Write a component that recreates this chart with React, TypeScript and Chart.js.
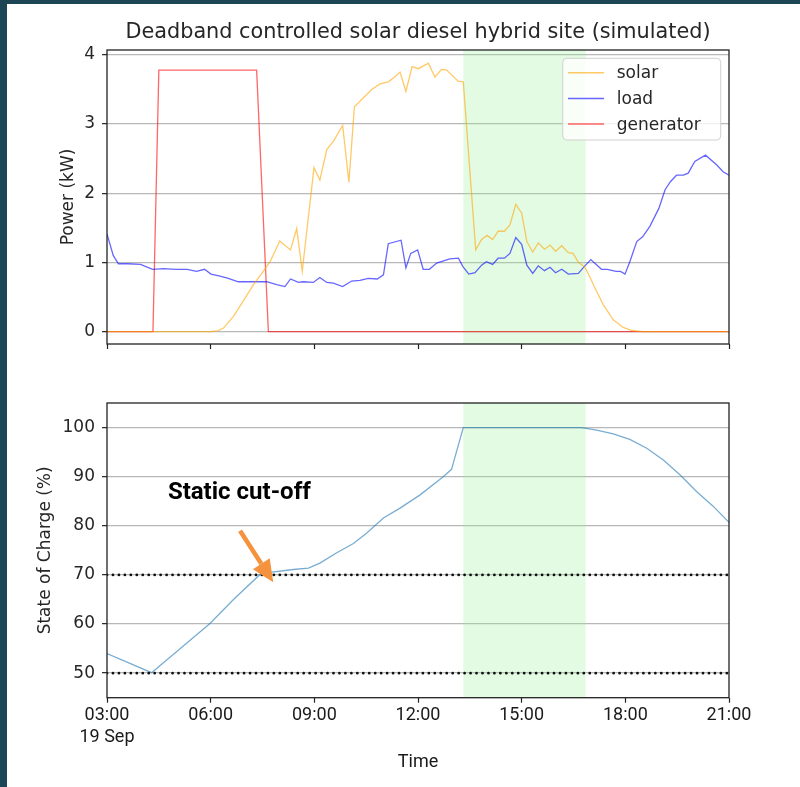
import React, { useEffect, useRef } from 'react';
import { Chart, registerables } from 'chart.js';

Chart.register(...registerables);

// ---------- data ----------
const chartTitle = 'Deadband controlled solar diesel hybrid site (simulated)';
const xTicks = [3, 6, 9, 12, 15, 18, 21];
const xTickLabels: (string | string[])[] = [['03:00', '19 Sep'], '06:00', '09:00', '12:00', '15:00', '18:00', '21:00'];
const powerTicks = [0, 1, 2, 3, 4];
const socTicks = [50, 60, 70, 80, 90, 100];
const seriesLabels = ['solar', 'load', 'generator'];

const solarTimes = [3, 6.0, 6.2, 6.37, 6.66, 6.94, 7.23, 7.52, 7.72, 8.0, 8.31, 8.49, 8.65, 8.99, 9.16, 9.36, 9.55, 9.82, 10.0, 10.16, 10.42, 10.66, 10.9, 11.14, 11.3, 11.48, 11.65, 11.83, 12.01, 12.3, 12.49, 12.68, 12.83, 13.16, 13.31, 13.67, 13.84, 14.0, 14.16, 14.32, 14.5, 14.66, 14.83, 15.0, 15.15, 15.32, 15.48, 15.66, 15.82, 15.98, 16.16, 16.35, 16.49, 16.64, 16.83, 17.0, 17.12, 17.36, 17.65, 17.94, 18.2, 18.5, 21];
const solarValues = [0, 0, 0.01, 0.05, 0.22, 0.44, 0.67, 0.87, 1.01, 1.31, 1.18, 1.49, 0.87, 2.37, 2.19, 2.63, 2.75, 2.98, 2.16, 3.25, 3.38, 3.5, 3.58, 3.61, 3.67, 3.75, 3.47, 3.83, 3.8, 3.88, 3.68, 3.79, 3.78, 3.62, 3.61, 1.18, 1.33, 1.39, 1.33, 1.45, 1.45, 1.54, 1.84, 1.71, 1.3, 1.15, 1.28, 1.19, 1.25, 1.16, 1.24, 1.14, 1.13, 1.0, 0.93, 0.76, 0.63, 0.39, 0.17, 0.06, 0.015, 0, 0];

const loadTimes = [3.0, 3.18, 3.33, 3.6, 3.97, 4.32, 4.63, 5.0, 5.32, 5.59, 5.82, 6.01, 6.27, 6.51, 6.8, 7.62, 7.91, 8.15, 8.31, 8.54, 8.68, 8.97, 9.16, 9.36, 9.55, 9.82, 10.08, 10.32, 10.56, 10.82, 11.0, 11.14, 11.51, 11.65, 11.79, 11.99, 12.15, 12.33, 12.54, 12.92, 13.17, 13.3, 13.47, 13.65, 13.84, 13.98, 14.16, 14.32, 14.5, 14.66, 14.83, 15.0, 15.15, 15.32, 15.48, 15.66, 15.82, 15.98, 16.16, 16.35, 16.64, 16.83, 17.0, 17.31, 17.48, 17.73, 17.86, 17.99, 18.13, 18.33, 18.5, 18.71, 18.97, 19.15, 19.31, 19.48, 19.68, 19.82, 20.01, 20.32, 20.64, 20.83, 21.0];
const loadValues = [1.41, 1.1, 0.98, 0.98, 0.97, 0.9, 0.91, 0.9, 0.9, 0.87, 0.9, 0.83, 0.8, 0.77, 0.72, 0.72, 0.68, 0.65, 0.76, 0.71, 0.72, 0.71, 0.78, 0.71, 0.7, 0.65, 0.73, 0.74, 0.77, 0.76, 0.82, 1.27, 1.32, 0.92, 1.13, 1.18, 0.9, 0.9, 0.99, 1.05, 1.06, 0.94, 0.83, 0.85, 0.96, 1.01, 0.97, 1.06, 1.06, 1.13, 1.36, 1.26, 0.96, 0.84, 0.95, 0.88, 0.93, 0.85, 0.9, 0.83, 0.84, 0.95, 1.04, 0.9, 0.9, 0.87, 0.87, 0.83, 1.01, 1.3, 1.37, 1.52, 1.78, 2.05, 2.17, 2.26, 2.26, 2.29, 2.46, 2.55, 2.41, 2.31, 2.26];

const generatorTimes = [3, 4.33, 4.5, 7.33, 7.67, 21];
const generatorValues = [0, 0, 3.78, 3.78, 0, 0];

const socTimes = [3.0, 4.29, 5.98, 6.66, 7.43, 7.6, 8.39, 8.83, 9.16, 9.65, 10.13, 10.51, 11.0, 11.48, 12.06, 12.73, 12.97, 13.31, 16.73, 17.17, 17.65, 18.13, 18.62, 19.1, 19.58, 20.06, 20.54, 21.0];
const socValues = [54.0, 50.1, 60.1, 65.0, 70.1, 70.4, 71.1, 71.4, 72.4, 74.5, 76.4, 78.5, 81.6, 83.6, 86.3, 90.0, 91.5, 100, 100, 99.5, 98.7, 97.6, 95.8, 93.4, 90.4, 87.0, 84.0, 80.7];

const cutoffLevels = [50, 70];
const shadeStart = 13.31;
const shadeEnd = 16.85;

const annotationText = 'Static cut-off';
const annotationAt = { x: 6.83, y: 86.6 };
const arrowFrom = { x: 6.85, y: 79.0 };
const arrowTo = { x: 7.81, y: 68.5 };

// ---------- styling ----------
const DJ = 'DejaVu Sans';
const RB = 'Roboto';
const textColor = '#262626';
const frameColor = '#222222';
const gridColor = '#b8b8b8';

const pts = (t: number[], v: number[]) => t.map((x, i) => ({ x, y: v[i] }));

const shadePlugin = {
  id: 'shade',
  beforeDatasetsDraw(chart: any) {
    const { ctx, chartArea: a, scales } = chart;
    const x0 = scales.x.getPixelForValue(shadeStart);
    const x1 = scales.x.getPixelForValue(shadeEnd);
    ctx.save();
    ctx.fillStyle = 'rgba(144,238,144,0.25)';
    ctx.fillRect(x0, a.top, x1 - x0, a.bottom - a.top);
    ctx.restore();
  },
};

const framePlugin = {
  id: 'frame',
  afterDatasetsDraw(chart: any) {
    const { ctx, chartArea: a } = chart;
    ctx.save();
    ctx.strokeStyle = frameColor;
    ctx.lineWidth = 1.3;
    ctx.strokeRect(a.left, a.top, a.right - a.left, a.bottom - a.top);
    ctx.restore();
  },
};

const titlePlugin = {
  id: 'topTitle',
  afterDraw(chart: any) {
    const { ctx, chartArea: a } = chart;
    ctx.save();
    ctx.fillStyle = textColor;
    ctx.font = `20.8px "${DJ}"`;
    ctx.textAlign = 'center';
    ctx.textBaseline = 'middle';
    ctx.fillText(chartTitle, (a.left + a.right) / 2, a.top - 17);
    ctx.restore();
  },
};

const legendPlugin = {
  id: 'boxLegend',
  afterDraw(chart: any) {
    const { ctx, chartArea: a } = chart;
    const ds = chart.data.datasets;
    ctx.save();
    ctx.font = `17px "${DJ}"`;
    const maxW = Math.max(...ds.map((d: any) => ctx.measureText(d.label).width));
    const w = 54 + maxW + 20;
    const h = 81.7;
    const left = a.right - 8.3 - w;
    const top = a.top + 8.3;
    ctx.beginPath();
    (ctx as any).roundRect(left, top, w, h, 4);
    ctx.fillStyle = 'rgba(255,255,255,0.8)';
    ctx.fill();
    ctx.strokeStyle = '#d0d0d0';
    ctx.lineWidth = 1;
    ctx.stroke();
    ds.forEach((d: any, i: number) => {
      const y = top + 14.4 + i * 25.7;
      ctx.beginPath();
      ctx.strokeStyle = d.borderColor;
      ctx.lineWidth = 1.5;
      ctx.moveTo(left + 5.3, y);
      ctx.lineTo(left + 41.3, y);
      ctx.stroke();
      ctx.fillStyle = textColor;
      ctx.textAlign = 'left';
      ctx.textBaseline = 'middle';
      ctx.fillText(d.label, left + 54, y + 1);
    });
    ctx.restore();
  },
};

const annotationPlugin = {
  id: 'cutoffNote',
  afterDraw(chart: any) {
    const { ctx, scales } = chart;
    const tx = scales.x.getPixelForValue(annotationAt.x);
    const ty = scales.y.getPixelForValue(annotationAt.y);
    ctx.save();
    ctx.fillStyle = '#000';
    ctx.font = `bold 24px "${RB}"`;
    ctx.textAlign = 'center';
    ctx.textBaseline = 'middle';
    ctx.fillText(annotationText, tx, ty);
    const x0 = scales.x.getPixelForValue(arrowFrom.x);
    const y0 = scales.y.getPixelForValue(arrowFrom.y);
    const x1 = scales.x.getPixelForValue(arrowTo.x);
    const y1 = scales.y.getPixelForValue(arrowTo.y);
    const ang = Math.atan2(y1 - y0, x1 - x0);
    const headLen = 22;
    const headHalf = 10;
    const bx = x1 - headLen * Math.cos(ang);
    const by = y1 - headLen * Math.sin(ang);
    const col = '#f5923e';
    ctx.strokeStyle = col;
    ctx.fillStyle = col;
    ctx.lineWidth = 4.5;
    ctx.beginPath();
    ctx.moveTo(x0, y0);
    ctx.lineTo(bx, by);
    ctx.stroke();
    ctx.beginPath();
    ctx.moveTo(x1, y1);
    ctx.lineTo(bx + headHalf * Math.sin(ang), by - headHalf * Math.cos(ang));
    ctx.lineTo(bx - headHalf * Math.sin(ang), by + headHalf * Math.cos(ang));
    ctx.closePath();
    ctx.fill();
    ctx.restore();
  },
};

const setTicks = (values: number[]) => (scale: any) => {
  scale.ticks = values.map((v) => ({ value: v }));
};

export default function App() {
  const topRef = useRef<HTMLCanvasElement>(null);
  const botRef = useRef<HTMLCanvasElement>(null);

  useEffect(() => {
    const lineBase = { pointRadius: 0, borderWidth: 1.3, tension: 0, fill: false };
    const top = new Chart(topRef.current!, {
      type: 'line',
      data: {
        datasets: [
          { ...lineBase, label: seriesLabels[0], data: pts(solarTimes, solarValues), borderColor: 'rgba(255,165,0,0.6)' },
          { ...lineBase, label: seriesLabels[1], data: pts(loadTimes, loadValues), borderColor: 'rgba(0,0,255,0.6)' },
          { ...lineBase, label: seriesLabels[2], data: pts(generatorTimes, generatorValues), borderColor: 'rgba(255,0,0,0.6)' },
        ],
      },
      options: {
        animation: false,
        responsive: false,
        devicePixelRatio: 1,
        layout: { padding: { top: 50, right: 71, left: 0, bottom: 0 } },
        plugins: { legend: { display: false }, tooltip: { enabled: false }, title: { display: false } },
        scales: {
          x: {
            type: 'linear',
            min: 3,
            max: 21,
            afterBuildTicks: setTicks(xTicks),
            ticks: { display: false },
            grid: { drawOnChartArea: false, drawTicks: true, tickLength: 5, tickColor: frameColor, tickWidth: 1.2 },
            border: { display: false },
            afterFit: (s: any) => { s.height = 26; },
          },
          y: {
            type: 'linear',
            min: -0.18,
            max: 4.07,
            afterBuildTicks: setTicks(powerTicks),
            ticks: { color: textColor, font: { family: DJ, size: 17 }, padding: 7 },
            grid: { color: gridColor, lineWidth: 1.3, tickColor: frameColor, tickLength: 5, tickWidth: 1.2 },
            border: { display: false },
            title: { display: true, text: 'Power (kW)', color: textColor, font: { family: DJ, size: 17 }, padding: { top: 58, bottom: 0 } },
            afterFit: (s: any) => { s.width = 107; },
          },
        },
      } as any,
      plugins: [shadePlugin, framePlugin, titlePlugin, legendPlugin],
    });

    const bottom = new Chart(botRef.current!, {
      type: 'line',
      data: {
        datasets: [
          ...cutoffLevels.map((lvl) => ({
            label: 'cut-off ' + lvl,
            data: [{ x: xTicks[0], y: lvl }, { x: xTicks[xTicks.length - 1], y: lvl }],
            borderColor: '#111111',
            borderWidth: 2.8,
            borderDash: [0.01, 5.95],
            borderCapStyle: 'round',
            pointRadius: 0,
            fill: false,
          })),
          { ...lineBase, label: 'soc', data: pts(socTimes, socValues), borderColor: 'rgba(31,119,180,0.6)' },
        ],
      },
      options: {
        animation: false,
        responsive: false,
        devicePixelRatio: 1,
        layout: { padding: { top: 33, right: 71, left: 0, bottom: 0 } },
        plugins: { legend: { display: false }, tooltip: { enabled: false }, title: { display: false } },
        scales: {
          x: {
            type: 'linear',
            min: 3,
            max: 21,
            afterBuildTicks: setTicks(xTicks),
            ticks: {
              color: '#1a1a1a',
              font: { family: RB, size: 18 },
              padding: 2,
              maxRotation: 0,
              autoSkip: false,
              callback: (_v: any, i: number) => xTickLabels[i],
            },
            grid: { drawOnChartArea: false, drawTicks: true, tickLength: 5, tickColor: frameColor, tickWidth: 1.2 },
            border: { display: false },
            title: { display: true, text: 'Time', color: '#1a1a1a', font: { family: RB, size: 18 }, padding: { top: 0, bottom: 14 } },
            afterFit: (s: any) => { s.height = 89.3; },
          },
          y: {
            type: 'linear',
            min: 45,
            max: 105,
            afterBuildTicks: setTicks(socTicks),
            ticks: { color: textColor, font: { family: DJ, size: 17 }, padding: 7 },
            grid: { color: gridColor, lineWidth: 1.3, tickColor: frameColor, tickLength: 5, tickWidth: 1.2 },
            border: { display: false },
            title: { display: true, text: 'State of Charge (%)', color: textColor, font: { family: DJ, size: 17 }, padding: { top: 35, bottom: 0 } },
            afterFit: (s: any) => { s.width = 107; },
          },
        },
      } as any,
      plugins: [shadePlugin, framePlugin, annotationPlugin],
    });

    return () => {
      top.destroy();
      bottom.destroy();
    };
  }, []);

  return (
    <div style={{ position: 'absolute', left: 0, top: 0, width: 800, height: 787, background: '#ffffff', overflow: 'hidden' }}>
      <div style={{ position: 'absolute', left: 0, top: 0, width: 800, height: 4, background: '#1c4656' }} />
      <div style={{ position: 'absolute', left: 0, top: 0, width: 7, height: 787, background: '#1c4656' }} />
      <canvas ref={topRef} width={800} height={370} style={{ position: 'absolute', left: 0, top: 0, width: 800, height: 370 }} />
      <canvas ref={botRef} width={800} height={417} style={{ position: 'absolute', left: 0, top: 370, width: 800, height: 417 }} />
    </div>
  );
}
